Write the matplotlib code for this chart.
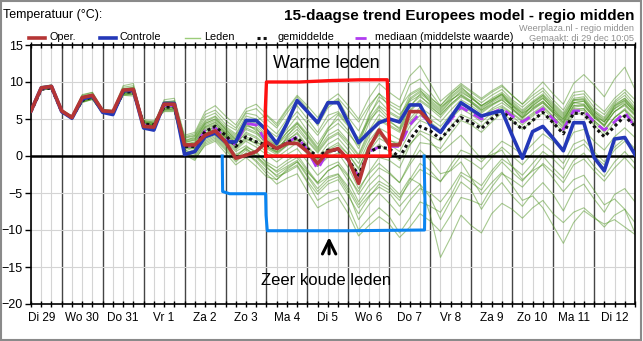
import numpy as np
import matplotlib.pyplot as plt
from matplotlib.lines import Line2D

plt.rcParams['font.family'] = ['Liberation Sans', 'DejaVu Sans']

# tijdstappen: elke 6 uur vanaf di 29 dec 06:00 t/m 13 jan 00:00
uren = np.arange(6, 361, 6)
dagen = ["Di 29", "Wo 30", "Do 31", "Vr 1", "Za 2", "Zo 3", "Ma 4", "Di 5",
         "Wo 6", "Do 7", "Vr 8", "Za 9", "Zo 10", "Ma 11", "Di 12"]

oper = [6.1, 9.2, 9.4, 6.1, 5.2, 7.9, 8.2, 6.1, 6.0, 8.9,
        9.0, 4.0, 3.9, 7.0, 7.0, 1.5, 1.5, 2.8, 3.4, 1.9,
        -0.3, 0.1, 0.6, 1.9, 1.0, 1.7, 1.7, 0.6, -1.0, 0.6,
        1.0, -0.5, -3.7, 1.0, 3.5, 1.5, 1.5, 6.0, 6.0, 4.6]

controle = [6.1, 9.2, 9.4, 6.0, 5.1, 7.7, 8.1, 5.9, 5.6, 8.8,
            8.9, 3.8, 3.5, 7.1, 7.1, 0.2, 0.6, 2.6, 3.1, 1.9,
            1.9, 4.8, 4.8, 3.5, 1.7, 4.4, 7.5, 6.0, 4.5, 7.2,
            7.2, 4.5, 1.8, 3.2, 4.5, 5.0, 4.6, 6.9, 6.9, 4.2,
            3.2, 5.2, 7.2, 6.3, 5.4, 5.8, 6.1, 2.8, -0.3, 3.3,
            4.0, 2.4, 0.7, 4.5, 4.5, -0.2, -2.0, 2.3, 2.5, 0.2]

gemiddelde = [6.0, 9.0, 9.2, 6.0, 5.2, 7.5, 8.0, 6.0, 5.8, 8.6,
              8.7, 4.3, 4.2, 6.6, 6.6, 1.3, 1.3, 3.3, 4.0, 2.8,
              1.3, 2.6, 1.9, 1.5, 1.0, 1.8, 2.5, 1.0, -0.1, 0.8,
              0.8, -0.5, -2.6, 0.5, 1.2, 1.0, -0.2, 2.2, 4.0, 3.4,
              2.3, 3.8, 5.2, 4.5, 3.7, 5.0, 6.1, 4.8, 3.6, 4.8,
              5.9, 4.5, 3.0, 5.8, 5.7, 4.0, 2.6, 4.0, 5.4, 4.0]

mediaan = [6.1, 9.1, 9.3, 6.0, 5.2, 7.7, 8.1, 6.0, 5.8, 8.7,
           8.8, 4.2, 4.0, 6.8, 6.8, 1.3, 1.4, 3.4, 3.8, 2.4,
           1.5, 4.4, 4.2, 1.8, 1.0, 1.8, 2.6, 0.8, -1.8, 0.6,
           0.9, -0.6, -2.8, 0.6, 1.2, 1.3, 1.3, 4.2, 5.8, 4.4,
           3.2, 4.9, 6.6, 5.8, 5.0, 5.8, 6.4, 5.4, 4.6, 5.5,
           6.4, 5.0, 3.6, 6.1, 6.1, 4.6, 3.5, 4.6, 5.9, 3.9]

leden = [
    [6.0, 9.4, 9.6, 6.2, 5.4, 8.3, 8.6, 6.3, 6.1, 9.3, 9.5, 4.6, 4.4, 7.4, 7.3, 2.5, 2.8, 5.2, 5.8, 4.3,
     3.5, 5.8, 5.5, 4.2, 3.0, 5.0, 6.8, 5.0, 3.2, 5.5, 6.0, 4.5, 2.0, 5.5, 7.5, 6.0, 5.2, 8.2, 9.0, 7.2,
     6.0, 7.5, 8.6, 7.8, 6.8, 7.6, 8.3, 6.5, 5.2, 7.0, 8.0, 6.2, 4.5, 7.5, 7.6, 5.5, 4.0, 6.8, 7.5, 5.8],
    [6.2, 9.1, 9.3, 5.9, 5.0, 7.6, 7.9, 5.8, 5.7, 8.6, 8.8, 3.6, 3.5, 6.6, 6.8, 2.0, 2.6, 4.6, 5.3, 3.6,
     2.2, 4.3, 4.8, 5.5, 4.1, 6.2, 8.0, 6.4, 4.1, 6.5, 7.6, 5.2, 3.4, 6.4, 8.5, 6.6, 5.6, 7.4, 8.2, 6.8,
     5.5, 7.0, 8.2, 7.2, 6.0, 6.9, 7.8, 6.9, 5.8, 6.6, 7.4, 6.0, 5.0, 7.2, 7.0, 5.4, 4.6, 6.4, 7.2, 6.1],
    [6.1, 9.0, 9.2, 6.0, 5.1, 7.4, 7.8, 5.9, 5.8, 8.4, 8.5, 4.4, 4.3, 6.4, 6.5, 1.0, 1.2, 3.0, 3.6, 2.5,
     1.0, 2.2, 1.8, 1.2, 0.5, 1.5, 2.4, 0.8, -0.5, 0.8, 1.5, 0.2, -1.8, 1.5, 3.0, 2.2, 1.4, 4.0, 5.5, 4.6,
     3.5, 5.0, 6.4, 5.6, 4.6, 5.8, 6.6, 5.7, 4.6, 5.6, 6.6, 5.3, 4.0, 6.2, 6.4, 4.8, 3.5, 5.2, 6.2, 4.9],
    [6.0, 9.0, 9.1, 5.9, 5.2, 7.3, 7.6, 5.8, 5.6, 8.2, 8.1, 4.8, 4.6, 6.0, 6.0, 0.2, -0.6, 1.6, 2.2, 0.8,
     -0.8, 0.4, -0.6, -2.0, -3.2, -2.0, -1.2, -3.4, -5.2, -3.8, -3.2, -5.4, -7.8, -5.6, -3.8, -4.6, -6.0, -3.2, -1.0, -2.0,
     -3.5, -1.2, 0.8, 0.2, -0.8, 0.6, 2.0, 1.2, 0.2, 1.6, 3.0, 2.0, 0.8, 3.2, 3.6, 2.0, 0.8, 2.6, 3.8, 2.5],
    [6.1, 8.9, 9.1, 6.1, 5.3, 7.4, 7.9, 6.0, 5.9, 8.5, 8.6, 4.5, 4.4, 6.2, 6.4, 0.8, 0.2, 2.4, 3.0, 1.5,
     -0.2, 1.2, 0.6, -1.0, -2.2, -1.4, -0.6, -2.6, -4.4, -3.0, -2.5, -4.6, -7.0, -5.4, -4.2, -5.0, -6.8, -5.2, -3.8, -5.6,
     -8.6, -6.0, -3.5, -4.6, -7.2, -5.0, -3.6, -5.4, -6.8, -5.0, -3.6, -5.2, -7.4, -4.6, -3.8, -5.8, -7.6, -5.2, -4.4, -6.2],
    [6.0, 9.1, 9.3, 6.0, 5.1, 7.6, 8.0, 6.1, 5.9, 8.7, 8.9, 4.2, 4.1, 6.7, 6.8, 1.5, 1.0, 2.8, 3.4, 2.0,
     0.6, 1.4, 0.4, -0.8, -1.6, -0.6, 0.2, -1.8, -3.6, -2.0, -1.2, -3.4, -6.2, -4.0, -2.6, -3.8, -5.2, -3.0, -3.8, -8.0,
     -13.7, -11.0, -8.0, -9.4, -10.4, -7.8, -6.4, -7.2, -8.4, -7.0, -6.0, -7.8, -9.0, -7.6, -7.0, -8.2, -9.6, -8.0, -7.2, -9.0],
    [6.1, 9.2, 9.4, 6.2, 5.3, 7.8, 8.1, 6.0, 5.8, 8.8, 8.9, 4.0, 3.8, 6.8, 6.9, 1.8, 1.6, 3.6, 4.2, 3.0,
     1.8, 3.0, 2.4, 1.2, 0.4, 1.4, 2.2, 0.4, -1.4, -0.2, 0.4, -1.6, -4.4, -2.4, -1.0, -2.2, -3.6, -1.2, 0.8, -0.6,
     -2.4, -2.0, -0.8, -3.0, -5.2, -3.6, -2.2, -4.0, -6.0, -5.4, -7.0, -9.4, -11.8, -9.0, -7.4, -8.4, -9.2, -8.6, -9.6, -10.6],
    [6.0, 9.0, 9.2, 5.9, 5.0, 7.2, 7.7, 5.8, 5.6, 8.3, 8.4, 4.9, 4.8, 6.3, 6.2, 0.5, 0.0, 2.0, 2.6, 1.2,
     -0.4, 0.8, -0.2, -1.6, -2.6, -1.6, -0.8, -2.8, -4.8, -3.4, -2.8, -5.0, -8.6, -6.6, -5.0, -6.4, -8.0, -6.0, -4.4, -5.0,
     -6.2, -4.4, -2.2, -3.0, -4.0, -2.0, -0.4, -1.4, -2.6, -1.0, 0.6, -0.4, -1.8, 0.8, 1.6, 0.0, -1.2, 0.8, 2.0, 0.6],
    [6.1, 9.1, 9.3, 6.1, 5.2, 7.5, 8.0, 6.0, 5.8, 8.6, 8.6, 4.3, 4.2, 6.5, 6.6, 1.1, 0.6, 2.6, 3.2, 1.8,
     0.2, 1.0, 0.0, -1.4, -2.8, -2.2, -1.4, -3.6, -6.0, -5.0, -4.6, -6.8, -10.0, -8.4, -7.0, -8.2, -10.4, -8.4, -6.2, -6.8,
     -7.6, -5.4, -2.6, -3.6, -4.6, -2.4, -0.8, -2.2, -3.4, -1.8, 0.0, -1.6, -3.0, -0.6, 0.4, -1.4, -2.8, -0.8, 0.6, -1.0],
    [6.2, 9.3, 9.5, 6.2, 5.3, 8.1, 8.4, 6.2, 6.1, 9.1, 9.2, 3.8, 3.7, 7.2, 7.4, 2.2, 2.4, 4.4, 5.0, 3.8,
     2.8, 5.0, 4.4, 2.8, 2.0, 3.6, 5.4, 3.4, 1.6, 3.8, 5.0, 3.4, 1.0, 4.4, 6.6, 5.2, 4.4, 7.6, 8.6, 7.6,
     6.4, 8.0, 9.2, 8.2, 7.2, 8.2, 9.0, 7.6, 6.6, 7.8, 8.8, 7.2, 5.8, 8.2, 8.4, 6.6, 5.6, 7.4, 8.6, 7.0],
    [6.0, 9.2, 9.4, 6.0, 5.1, 7.8, 8.2, 6.1, 5.9, 9.0, 9.2, 3.9, 3.8, 7.0, 7.2, 1.9, 2.1, 4.0, 4.6, 3.2,
     2.0, 4.2, 3.6, 2.4, 1.4, 3.2, 4.6, 3.0, 1.2, 3.4, 4.4, 3.0, 1.4, 5.2, 8.0, 7.0, 6.2, 9.6, 10.4, 8.6,
     6.8, 8.4, 9.4, 8.0, 6.6, 7.4, 8.2, 7.0, 5.8, 7.2, 8.2, 6.6, 5.2, 7.6, 7.8, 6.0, 5.0, 7.0, 7.8, 6.4],
    [6.1, 9.1, 9.3, 6.0, 5.2, 7.7, 8.1, 6.0, 5.9, 8.8, 8.9, 4.1, 4.0, 6.9, 7.0, 1.6, 1.8, 3.8, 4.3, 3.0,
     1.8, 3.6, 3.0, 1.8, 0.9, 2.4, 3.6, 2.0, 0.4, 2.2, 3.0, 1.4, -0.4, 2.6, 4.8, 4.0, 3.2, 6.0, 7.4, 6.4,
     5.2, 6.8, 8.0, 7.2, 6.2, 7.2, 8.0, 6.8, 5.6, 6.8, 7.8, 6.4, 5.0, 7.2, 7.4, 5.8, 4.6, 6.4, 7.4, 6.0],
    [6.0, 9.0, 9.2, 6.0, 5.1, 7.5, 7.9, 5.9, 5.7, 8.5, 8.6, 4.4, 4.2, 6.5, 6.5, 1.2, 0.9, 2.8, 3.4, 2.2,
     0.8, 2.0, 1.2, 0.2, -0.8, 0.2, 1.0, -0.8, -2.6, -1.4, -0.8, -2.6, -5.2, -3.2, -1.6, -2.4, -3.6, -0.8, 1.8, 1.6,
     1.0, 3.0, 4.8, 4.2, 3.2, 4.6, 5.8, 4.8, 3.6, 4.8, 5.8, 4.6, 3.2, 5.6, 5.8, 4.2, 2.8, 4.6, 5.6, 4.2],
    [6.1, 9.2, 9.4, 6.1, 5.2, 7.9, 8.3, 6.1, 6.0, 9.0, 9.1, 4.0, 3.9, 7.1, 7.1, 2.6, 3.0, 5.6, 6.2, 4.8,
     3.8, 6.0, 6.4, 5.0, 3.8, 5.8, 7.6, 6.2, 4.6, 6.8, 7.8, 6.2, 4.6, 6.8, 8.4, 7.4, 6.6, 8.4, 9.2, 8.0,
     6.6, 7.6, 8.4, 7.4, 6.2, 7.0, 7.6, 6.4, 5.0, 6.4, 7.2, 5.8, 4.2, 6.6, 6.8, 5.2, 4.0, 6.0, 6.8, 5.4],
    [6.0, 9.1, 9.3, 6.1, 5.2, 7.6, 8.0, 6.0, 5.8, 8.6, 8.7, 4.3, 4.2, 6.6, 6.6, 1.3, 1.2, 3.0, 3.6, 2.4,
     1.2, 2.4, 1.6, 0.6, -0.2, 0.8, 1.8, 0.2, -1.4, 0.2, 1.0, -0.6, -2.6, 0.4, 1.6, 0.6, -0.6, 1.6, 3.0, 2.0,
     0.4, 1.6, 2.8, 1.2, -0.4, 0.2, 0.8, -1.4, -3.2, -2.0, -1.2, -3.0, -4.8, -3.2, -2.6, -4.6, -6.6, -5.8, -7.2, -10.4],
    [6.1, 9.1, 9.3, 6.0, 5.2, 7.6, 8.0, 6.0, 5.8, 8.7, 8.8, 4.2, 4.1, 6.7, 6.8, 1.4, 1.5, 3.4, 3.9, 2.6,
     1.5, 4.0, 3.8, 2.0, 1.2, 2.2, 3.0, 1.2, -0.4, 1.0, 1.8, 0.2, -1.6, 1.2, 2.8, 2.0, 1.8, 4.6, 6.2, 5.0,
     4.0, 5.6, 7.0, 6.2, 5.2, 6.2, 6.8, 5.8, 4.8, 5.8, 6.8, 5.4, 3.8, 6.4, 6.4, 4.8, 3.6, 5.2, 6.2, 4.4],
    [6.0, 9.0, 9.3, 6.1, 5.3, 7.8, 8.2, 6.2, 6.0, 8.9, 9.0, 4.1, 3.9, 6.9, 7.0, 1.8, 2.2, 4.2, 4.8, 3.4,
     2.4, 4.6, 4.0, 2.6, 1.6, 3.2, 4.4, 2.6, 0.8, 2.8, 3.6, 2.0, 0.2, 3.4, 5.6, 4.6, 3.8, 6.8, 8.0, 7.0,
     5.8, 7.4, 8.8, 7.8, 6.8, 7.8, 8.6, 7.4, 6.2, 7.4, 8.4, 7.0, 5.6, 7.8, 8.0, 6.2, 5.2, 7.2, 8.2, 6.6],
    [6.0, 9.0, 9.1, 6.0, 5.1, 7.3, 7.7, 5.8, 5.6, 8.3, 8.3, 4.6, 4.5, 6.2, 6.2, 0.6, -0.2, 1.8, 2.4, 1.0,
     -0.6, 0.4, -0.8, -2.4, -3.8, -3.0, -2.4, -4.8, -7.0, -6.2, -5.6, -7.8, -10.8, -9.4, -8.2, -9.2, -11.0, -9.6, -7.8, -8.8,
     -10.2, -8.0, -5.6, -6.0, -6.6, -4.2, -2.4, -3.2, -4.2, -2.6, -1.0, -2.2, -3.6, -1.2, -0.4, -2.0, -3.4, -1.6, -0.2, -1.8],
    [6.1, 9.0, 9.2, 6.0, 5.2, 7.5, 7.9, 5.9, 5.8, 8.6, 8.7, 4.3, 4.2, 6.6, 6.6, 1.2, 1.0, 3.1, 3.8, 2.6,
     1.2, 2.6, 2.0, 1.0, 0.2, 1.4, 2.2, 0.6, -1.0, 0.4, 1.2, -0.4, -2.4, 0.6, 2.4, 1.6, 0.6, 3.2, 4.8, 4.2,
     3.4, 5.2, 6.6, 6.0, 5.2, 6.4, 7.2, 6.2, 5.2, 6.2, 7.2, 5.8, 4.4, 6.8, 6.8, 5.2, 4.2, 6.0, 7.0, 5.6],
    [6.2, 9.2, 9.5, 6.2, 5.3, 8.0, 8.4, 6.2, 6.0, 9.1, 9.3, 3.7, 3.6, 7.3, 7.5, 2.4, 2.7, 4.8, 5.4, 4.0,
     3.0, 5.4, 5.0, 3.6, 2.6, 4.4, 6.0, 4.4, 2.8, 4.8, 5.8, 4.2, 2.4, 5.0, 6.8, 5.8, 5.0, 7.8, 8.8, 7.8,
     6.8, 8.2, 9.6, 8.6, 7.6, 8.6, 9.4, 8.2, 7.0, 8.2, 9.2, 7.6, 6.2, 8.6, 8.8, 7.2, 6.0, 7.8, 9.0, 7.6],
    [6.0, 9.0, 9.2, 6.0, 5.1, 7.4, 7.8, 5.9, 5.7, 8.4, 8.5, 4.6, 4.4, 6.3, 6.3, 0.8, 0.4, 2.2, 2.8, 1.4,
     0.0, 1.0, 0.0, -1.2, -2.0, -1.0, -0.2, -2.0, -3.8, -2.8, -2.4, -4.2, -6.6, -4.8, -3.4, -4.2, -5.6, -3.6, -1.8, -2.6,
     -3.4, -1.8, 0.0, -0.8, -1.8, -0.2, 1.2, 0.0, -1.2, 0.4, 1.6, 0.4, -1.0, 1.6, 2.2, 0.6, -0.8, 1.2, 2.4, 1.0],
    [6.1, 9.1, 9.3, 6.1, 5.2, 7.7, 8.1, 6.0, 5.9, 8.8, 9.0, 4.0, 3.9, 6.9, 7.0, 1.6, 1.9, 3.9, 4.5, 3.2,
     2.2, 3.8, 3.2, 2.2, 1.4, 2.8, 4.0, 2.2, 0.6, 2.4, 3.2, 1.8, 0.0, 3.0, 5.0, 4.2, 3.4, 6.2, 7.6, 6.6,
     5.6, 7.0, 8.2, 7.4, 6.4, 7.4, 8.4, 7.2, 6.0, 7.2, 8.2, 6.8, 5.4, 7.6, 7.6, 6.0, 4.8, 6.8, 7.8, 6.2],
    [6.0, 9.0, 9.2, 5.9, 5.1, 7.4, 7.7, 5.9, 5.6, 8.2, 8.3, 4.7, 4.6, 6.1, 6.1, 0.4, -0.4, 1.4, 2.0, 0.4,
     -1.2, -0.2, -1.4, -2.8, -3.2, -1.8, -0.8, -2.2, -3.6, -2.0, -1.2, -2.8, -4.8, -2.2, -0.2, -0.6, -1.6, 1.4, 3.4, 2.8,
     2.0, 4.0, 5.6, 5.0, 4.0, 5.4, 6.4, 5.4, 4.2, 5.4, 6.4, 5.0, 3.6, 6.0, 6.2, 4.6, 3.2, 5.2, 6.4, 5.0],
    [6.1, 9.2, 9.4, 6.1, 5.2, 7.8, 8.2, 6.1, 5.9, 8.9, 9.1, 4.0, 3.8, 7.0, 7.1, 2.0, 2.3, 4.4, 5.0, 3.6,
     2.6, 4.4, 3.4, 1.4, 0.6, 2.6, 4.4, 2.8, 1.0, 3.6, 5.6, 4.0, 2.0, 4.8, 6.2, 4.8, 3.6, 6.6, 8.4, 7.4,
     6.2, 7.8, 9.0, 8.0, 6.8, 7.6, 8.4, 6.8, 5.4, 6.8, 7.8, 6.4, 4.8, 7.2, 7.4, 5.6, 4.6, 6.6, 7.6, 6.2],
    [6.2, 9.3, 9.6, 6.3, 5.4, 8.2, 8.6, 6.3, 6.2, 9.5, 9.8, 4.4, 4.2, 7.6, 7.8, 2.8, 3.2, 6.0, 6.8, 5.4,
     4.2, 6.4, 7.0, 5.6, 4.4, 6.4, 8.2, 6.8, 5.2, 7.4, 8.4, 6.8, 5.0, 7.8, 9.8, 8.6, 7.6, 10.8, 12.2, 9.8,
     7.4, 8.6, 9.8, 8.8, 7.8, 8.8, 9.6, 8.2, 7.0, 8.6, 10.0, 8.4, 7.0, 9.8, 11.0, 9.6, 8.0, 10.4, 12.0, 9.0],
    [6.0, 9.0, 9.2, 6.0, 5.2, 7.6, 8.0, 6.0, 5.8, 8.6, 8.8, 4.3, 4.1, 6.7, 6.8, 1.4, 1.4, 3.4, 4.0, 2.8,
     1.6, 3.2, 2.6, 1.4, 0.6, 2.0, 3.2, 1.4, -0.2, 1.6, 2.4, 0.8, -1.0, 2.0, 3.8, 3.0, 2.2, 5.0, 6.6, 5.6,
     4.6, 6.2, 7.6, 6.8, 5.8, 6.8, 7.6, 6.4, 5.2, 6.4, 7.4, 6.0, 4.6, 6.8, 7.0, 5.4, 4.2, 6.0, 7.0, 5.6],
]

t = uren / 24.0
t_oper = t[:len(oper)]

fig = plt.figure(figsize=(6.43, 3.41), dpi=100)
ax = fig.add_axes([31 / 643, 1 - 304 / 341, 604 / 643, 259 / 341])

# rooster: lichtgrijs per 6 uur, donker per dag
for x in np.arange(0.25, 15.0, 0.25):
    if abs(x - round(x)) < 1e-6:
        ax.axvline(x, color='#454545', lw=1.0, zorder=1)
    else:
        ax.axvline(x, color='#d4d4d4', lw=0.8, zorder=1)
for y in range(-15, 15, 5):
    ax.axhline(y, color='#d4d4d4', lw=0.8, zorder=1)

for lid in leden:
    ax.plot(t, lid, color='#4f9422', lw=0.8, alpha=0.5, zorder=2)

ax.axhline(0, color='black', lw=1.8, zorder=3)

ax.plot(t, mediaan, color='#b03cf0', lw=2.0, ls=(0, (4, 2.5)), zorder=4)
ax.plot(t, gemiddelde, color='#111111', lw=2.2, ls=(0, (1, 1)), zorder=5)
ax.plot(t, controle, color='#2438b8', lw=2.6, zorder=6)
ax.plot(t_oper, oper, color='#b53535', lw=2.6, zorder=7)

# rode kader warme leden
ax.plot([5.98, 5.97, 6.0, 6.8, 7.6, 8.3, 8.95, 8.98, 9.02, 5.98],
        [0.0, 6.0, 10.0, 10.0, 10.2, 10.3, 10.3, 5.0, 0.0, 0.0],
        color='#ff1010', lw=2.4, zorder=8, solid_joinstyle='round')
# blauwe kader zeer koude leden
ax.plot([4.92, 4.93, 5.1, 5.98, 5.99, 6.02, 8.0, 9.86, 9.87, 9.85],
        [0.0, -4.8, -5.1, -5.1, -8.0, -10.1, -10.1, -10.0, -6.0, 0.0],
        color='#0a84f0', lw=2.2, zorder=8, solid_joinstyle='round')

ax.text(7.45, 12.5, "Warme leden", fontsize=13, ha='center', va='center', zorder=9)
ax.text(7.45, -16.8, "Zeer koude leden", fontsize=12, ha='center', va='center', zorder=9)
ax.annotate("", xy=(7.53, -10.6), xytext=(7.53, -13.6),
            arrowprops=dict(arrowstyle='->', color='black', lw=2.2,
                            mutation_scale=24), zorder=9)

ax.set_xlim(0.25, 15.0)
ax.set_ylim(-20, 15)
ax.set_yticks(range(-20, 16, 5))
ax.tick_params(axis='y', labelsize=9, length=4, width=1, pad=2)
ax.xaxis.remove_overlapping_locs = False
ax.set_xticks(np.arange(0.5, 15, 1))
ax.set_xticklabels(dagen)
ax.set_xticks(np.arange(0.25, 15.01, 0.25), minor=True)
ax.tick_params(axis='x', which='major', labelsize=8.5, length=0, pad=6)
ax.tick_params(axis='x', which='minor', length=4, width=1, top=True, direction='inout')
for s in ax.spines.values():
    s.set_color('black')
    s.set_linewidth(1.2)

# kopteksten en legenda
fig.text(3 / 643, 1 - 15 / 341, "Temperatuur (°C):", fontsize=9, va='center')
fig.text(634 / 643, 1 - 16 / 341, "15-daagse trend Europees model - regio midden",
         fontsize=11, fontweight='bold', ha='right', va='center')
fig.text(634 / 643, 1 - 28.5 / 341, "Weerplaza.nl - regio midden", fontsize=6.6,
         color='#909090', ha='right', va='center')
fig.text(634 / 643, 1 - 38.5 / 341, "Gemaakt: di 29 dec 10:05", fontsize=6.6,
         color='#909090', ha='right', va='center')

ly = 1 - 37.5 / 341
legenda = [
    (29, 45, 49, "Oper.", dict(color='#b53535', lw=2.6)),
    (100, 116, 120, "Controle", dict(color='#2438b8', lw=2.6)),
    (185, 200, 204, "Leden", dict(color='#9ccc7a', lw=1.0)),
    (257, 268, 278, "gemiddelde", dict(color='#111111', lw=2.2, ls=(0, (1, 1)))),
    (355, 370, 375, "mediaan (middelste waarde)", dict(color='#b03cf0', lw=2.0, ls=(0, (4, 2.5)))),
]
for x0, x1, xt, label, stijl in legenda:
    fig.add_artist(Line2D([x0 / 643, x1 / 643], [ly, ly], transform=fig.transFigure, **stijl))
    fig.text(xt / 643, ly, label, fontsize=7.8, va='center')

fig.add_artist(plt.Rectangle((0.001, 0.002), 0.996, 0.995, transform=fig.transFigure,
                             fill=False, edgecolor='#8a8a8a', lw=1.5))

fig.savefig("out.png", dpi=100)
